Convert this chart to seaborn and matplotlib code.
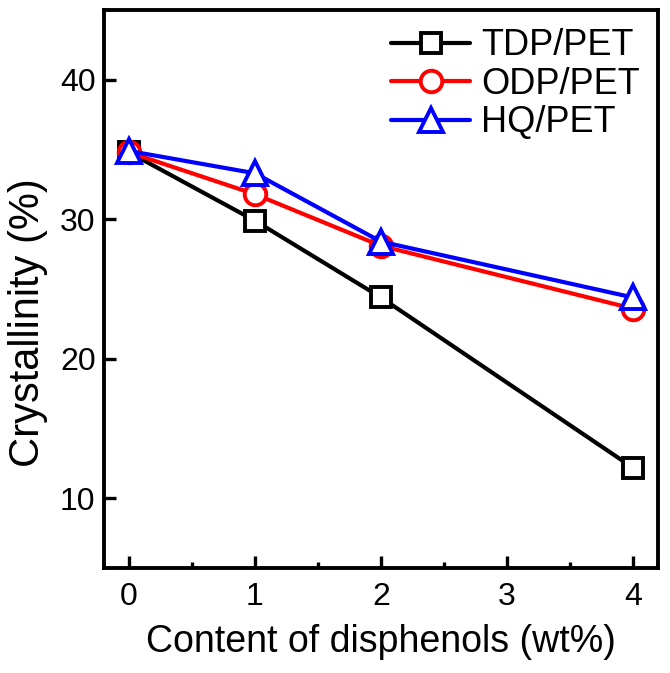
import pandas as pd
import matplotlib.pyplot as plt
import seaborn as sns

# ── DATA ─────────────────────────────────────────────────────
content = [0, 1, 2, 4]
tdp_pet = [34.8, 29.9, 24.4, 12.2]
odp_pet = [34.8, 31.8, 28.1, 23.6]
hq_pet = [34.9, 33.3, 28.4, 24.4]

series = [
    ("TDP/PET", tdp_pet, "black", "s", 14),
    ("ODP/PET", odp_pet, "#ff0000", "o", 15.5),
    ("HQ/PET", hq_pet, "#0000ff", "^", 17),
]

# ── PLOT ─────────────────────────────────────────────────────
sns.set_style("ticks")
plt.rcParams['font.family'] = ['Liberation Sans', 'DejaVu Sans']
for k in ['text.color', 'axes.labelcolor', 'xtick.color', 'ytick.color', 'axes.edgecolor']:
    plt.rcParams[k] = 'black'

fig = plt.figure(figsize=(6.7, 6.73), dpi=100)
ax = fig.add_axes([0.155, 0.156, 0.827, 0.829])

for name, vals, col, mk, ms in series:
    df = pd.DataFrame({"x": content, "y": vals})
    sns.lineplot(
        data=df, x="x", y="y", ax=ax, color=col, label=name,
        marker=mk, markersize=ms,
        markerfacecolor="white", markeredgecolor=col,
        markeredgewidth=2.8, linewidth=3,
    )

ax.set_xlim(-0.2, 4.2)
ax.set_ylim(5, 45)
ax.set_xticks([0, 1, 2, 3, 4])
ax.set_xticks([0.5, 1.5, 2.5, 3.5], minor=True)
ax.set_yticks([10, 20, 30, 40])
ax.tick_params(axis='both', which='major', direction='in', length=8.5,
               width=2.4, labelsize=23)
ax.tick_params(axis='x', which='major', pad=10)
ax.tick_params(axis='y', which='major', pad=6)
ax.tick_params(axis='x', which='minor', direction='in', length=4.5, width=2.4)
for s in ax.spines.values():
    s.set_linewidth(2.8)

ax.set_xlabel("Content of disphenols (wt%)", fontsize=27, labelpad=9)
ax.set_ylabel("Crystallinity (%)", fontsize=30)
ax.yaxis.set_label_coords(-0.10, 0.44)

ax.legend(loc="upper right", frameon=False, fontsize=26, handlelength=2.2,
          handletextpad=0.3, labelspacing=0.1, borderaxespad=0.2,
          borderpad=0.3)

plt.savefig("out.png", dpi=100)
